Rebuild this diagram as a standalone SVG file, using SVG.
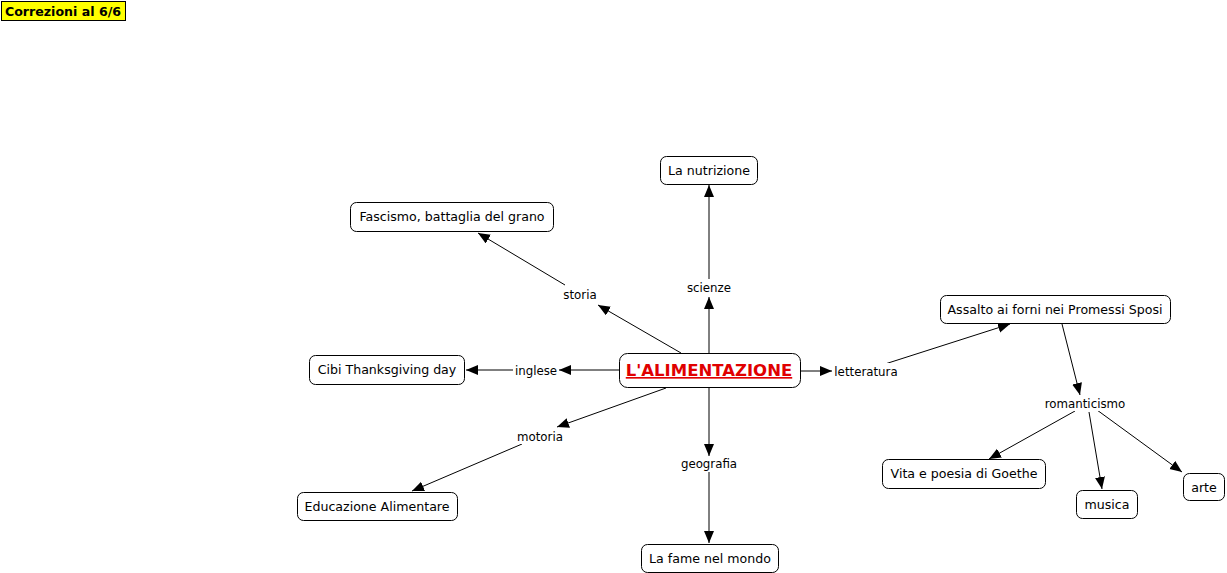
<svg xmlns="http://www.w3.org/2000/svg" width="1227" height="573" viewBox="0 0 1227 573">
<style>
.n rect{fill:#fff;stroke:#000;stroke-width:1}
.n text{font-family:"DejaVu Sans",sans-serif;font-size:12.6px;fill:#000;text-anchor:middle}
.lb text{font-family:"DejaVu Sans",sans-serif;font-size:11.8px;fill:#000;text-anchor:middle}
.lb rect{fill:#fff}
.c line{stroke:#000;stroke-width:1;fill:none}
.a{marker-end:url(#ah)}
</style>
<defs>
<marker id="ah" markerUnits="userSpaceOnUse" markerWidth="14" markerHeight="12" refX="12" refY="5" orient="auto">
<path d="M0,0 L12,5 L0,10 Z" fill="#000"/>
</marker>
</defs>
<rect width="1227" height="573" fill="#fff"/>
<g id="title">
<rect x="1.5" y="1.5" width="124" height="19" fill="#ffff00" stroke="#000"/>
<text x="63" y="15.5" font-family="DejaVu Sans,sans-serif" font-size="12.6" font-weight="bold" text-anchor="middle">Correzioni al 6/6</text>
</g>
<g class="c" id="connectors">
<line x1="709" y1="353" x2="709" y2="297" class="a"/>
<line x1="709" y1="279" x2="709" y2="185" class="a"/>
<line x1="681" y1="353" x2="598" y2="305" class="a"/>
<line x1="565" y1="285" x2="478" y2="233" class="a"/>
<line x1="619" y1="370" x2="559" y2="370" class="a"/>
<line x1="513" y1="370" x2="466" y2="370" class="a"/>
<line x1="800" y1="371" x2="832" y2="371" class="a"/>
<line x1="885" y1="364" x2="1010" y2="324" class="a"/>
<line x1="666" y1="388" x2="557" y2="427" class="a"/>
<line x1="522" y1="444" x2="412" y2="491" class="a"/>
<line x1="709" y1="387" x2="709" y2="456" class="a"/>
<line x1="709" y1="472" x2="709" y2="543" class="a"/>
<line x1="1062" y1="324" x2="1080" y2="395" class="a"/>
<line x1="1075" y1="411" x2="989" y2="459" class="a"/>
<line x1="1089" y1="412" x2="1102" y2="489" class="a"/>
<line x1="1097" y1="410" x2="1182" y2="472" class="a"/>
</g>
<g class="lb">
<g id="l-scienze"><rect x="685" y="279" width="48" height="16"/><text x="709" y="292">scienze</text></g>
<g id="l-storia"><rect x="560" y="286" width="40" height="16"/><text x="580" y="299">storia</text></g>
<g id="l-inglese"><rect x="513" y="362" width="46" height="16"/><text x="536" y="374.5">inglese</text></g>
<g id="l-letteratura"><rect x="833" y="363" width="66" height="16"/><text x="866" y="375.5">letteratura</text></g>
<g id="l-motoria"><rect x="516" y="428" width="48" height="16"/><text x="540" y="441">motoria</text></g>
<g id="l-geografia"><rect x="679" y="456" width="60" height="16"/><text x="709" y="468">geografia</text></g>
<g id="l-romanticismo"><rect x="1043" y="395" width="84" height="16"/><text x="1085" y="408">romanticismo</text></g>
</g>
<g class="n" id="central">
<rect x="619.5" y="353.5" width="181" height="34" rx="8"/>
<text x="709" y="376" style="font-size:16.5px;font-weight:bold;fill:#e00000;text-decoration:underline">L'ALIMENTAZIONE</text>
</g>
<g class="n" id="nutrizione"><rect x="660.5" y="156.5" width="97" height="28" rx="6"/><text x="709" y="175">La nutrizione</text></g>
<g class="n" id="fascismo"><rect x="350.5" y="202.5" width="203" height="29" rx="6"/><text x="452" y="221">Fascismo, battaglia del grano</text></g>
<g class="n" id="assalto"><rect x="940.5" y="295.5" width="230" height="28" rx="6"/><text x="1055" y="314">Assalto ai forni nei Promessi Sposi</text></g>
<g class="n" id="cibi"><rect x="309.5" y="355.5" width="155" height="29" rx="6"/><text x="387" y="374">Cibi Thanksgiving day</text></g>
<g class="n" id="educazione"><rect x="297.5" y="492.5" width="160" height="28" rx="6"/><text x="377" y="511">Educazione Alimentare</text></g>
<g class="n" id="fame"><rect x="641.5" y="544.5" width="137" height="28" rx="6"/><text x="710" y="563">La fame nel mondo</text></g>
<g class="n" id="goethe"><rect x="882.5" y="459.5" width="163" height="29" rx="6"/><text x="964" y="478">Vita e poesia di Goethe</text></g>
<g class="n" id="musica"><rect x="1076.5" y="490.5" width="61" height="28" rx="6"/><text x="1107" y="509">musica</text></g>
<g class="n" id="arte"><rect x="1183.5" y="473.5" width="41" height="27" rx="6"/><text x="1204" y="492">arte</text></g>
</svg>
